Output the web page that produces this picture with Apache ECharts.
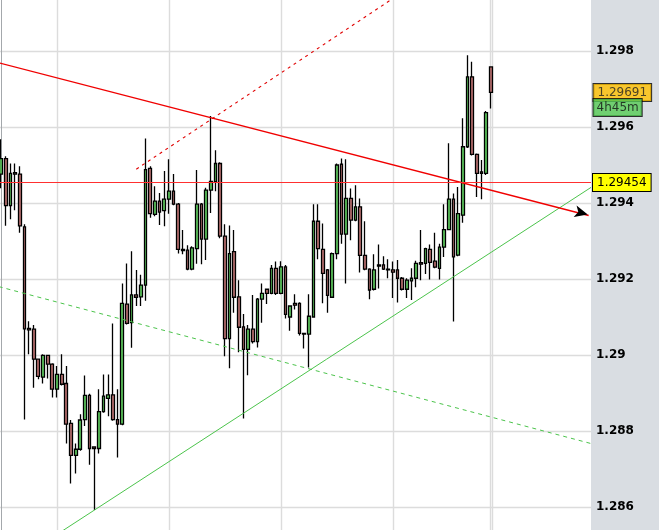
<!DOCTYPE html>
<html>
<head>
<meta charset="utf-8">
<script src="https://cdn.jsdelivr.net/npm/echarts@6/dist/echarts.min.js"></script>
<style>
html,body{margin:0;padding:0;background:#d9dde2;}
#chart{width:659px;height:530px;}
</style>
</head>
<body>
<div id="chart"></div>
<script>
// ---- data ----
const openPrices = [
1.29476,1.29517,1.29393,1.29480,1.29476,1.29337,1.29070,1.29068,1.28989,1.28942,
1.28999,1.28976,1.28910,1.28949,1.28925,1.28820,1.28736,1.28752,1.28830,1.28894,
1.28758,1.28754,1.28851,1.28886,1.28895,1.28830,1.28818,1.29134,1.29085,1.29158,
1.29153,1.29184,1.29491,1.29370,1.29405,1.29380,1.29410,1.29431,1.29397,1.29278,
1.29276,1.29226,1.29280,1.29397,1.29305,1.29434,1.29456,1.29504,1.29313,1.29043,
1.29272,1.29153,1.29074,1.29015,1.29068,1.29035,1.29147,1.29173,1.29162,1.29228,
1.29162,1.29232,1.29100,1.29136,1.29136,1.29057,1.29055,1.29100,1.29352,1.29278,
1.29224,1.29152,1.29267,1.29502,1.29318,1.29412,1.29355,1.29390,1.29262,1.29226,
1.29173,1.29237,1.29237,1.29226,1.29224,1.29224,1.29202,1.29173,1.29195,1.29202,
1.29243,1.29241,1.29278,1.29247,1.29228,1.29284,1.29330,1.29410,1.29263,1.29368,
1.29548,1.29732,1.29528,1.29482,1.29478,1.29758];
const closePrices = [
1.29517,1.29393,1.29478,1.29476,1.29340,1.29069,1.29066,1.28989,1.28944,1.28999,
1.28976,1.28910,1.28949,1.28923,1.28818,1.28736,1.28752,1.28829,1.28894,1.28754,
1.28754,1.28851,1.28892,1.28895,1.28830,1.28818,1.29136,1.29083,1.29158,1.29152,
1.29184,1.29488,1.29372,1.29405,1.29376,1.29410,1.29431,1.29397,1.29278,1.29275,
1.29226,1.29282,1.29397,1.29305,1.29434,1.29457,1.29504,1.29313,1.29043,1.29267,
1.29152,1.29073,1.29015,1.29068,1.29035,1.29147,1.29162,1.29162,1.29228,1.29162,
1.29232,1.29107,1.29129,1.29131,1.29057,1.29055,1.29102,1.29352,1.29280,1.29215,
1.29157,1.29267,1.29500,1.29318,1.29412,1.29355,1.29390,1.29262,1.29226,1.29171,
1.29224,1.29234,1.29226,1.29224,1.29218,1.29202,1.29173,1.29197,1.29202,1.29241,
1.29239,1.29280,1.29244,1.29231,1.29284,1.29330,1.29410,1.29258,1.29372,1.29548,
1.29732,1.29528,1.29478,1.29478,1.29638,1.29691];
const lowPrices = [
1.29439,1.29340,1.29357,1.29381,1.29322,1.28830,1.29002,1.28914,1.28936,1.28925,
1.28938,1.28888,1.28888,1.28920,1.28767,1.28662,1.28688,1.28748,1.28813,1.28711,
1.28592,1.28741,1.28848,1.28839,1.28827,1.28730,1.28815,1.29080,1.29019,1.29129,
1.29129,1.29143,1.29361,1.29365,1.29342,1.29339,1.29372,1.29394,1.29267,1.29265,
1.29223,1.29223,1.29240,1.29239,1.29250,1.29374,1.29431,1.29307,1.28997,1.28965,
1.29111,1.29007,1.28833,1.28947,1.29030,1.29020,1.29085,1.29134,1.29160,1.29158,
1.29160,1.29096,1.29064,1.29120,1.29051,1.29017,1.28967,1.29098,1.29252,1.29136,
1.29111,1.29150,1.29252,1.29293,1.29188,1.29302,1.29352,1.29217,1.29223,1.29147,
1.29170,1.29175,1.29224,1.29202,1.29150,1.29138,1.29170,1.29150,1.29145,1.29178,
1.29197,1.29213,1.29199,1.29228,1.29199,1.29258,1.29328,1.29088,1.29260,1.29348,
1.29545,1.29525,1.29416,1.29410,1.29474,1.29649];
const highPrices = [
1.29568,1.29523,1.29504,1.29504,1.29497,1.29344,1.29089,1.29079,1.28989,1.29002,
1.29000,1.28978,1.28971,1.29002,1.28971,1.28829,1.28767,1.28844,1.28946,1.28898,
1.28760,1.28910,1.28949,1.28949,1.29083,1.28910,1.29188,1.29241,1.29273,1.29224,
1.29211,1.29570,1.29497,1.29444,1.29426,1.29484,1.29515,1.29476,1.29400,1.29329,
1.29289,1.29286,1.29487,1.29400,1.29440,1.29629,1.29539,1.29507,1.29344,1.29341,
1.29329,1.29197,1.29108,1.29079,1.29158,1.29150,1.29188,1.29175,1.29237,1.29246,
1.29247,1.29237,1.29131,1.29160,1.29139,1.29058,1.29160,1.29397,1.29397,1.29346,
1.29226,1.29270,1.29504,1.29517,1.29515,1.29438,1.29447,1.29412,1.29352,1.29228,
1.29265,1.29291,1.29260,1.29252,1.29246,1.29250,1.29205,1.29202,1.29228,1.29248,
1.29329,1.29282,1.29291,1.29322,1.29293,1.29397,1.29557,1.29425,1.29442,1.29623,
1.29789,1.29772,1.29530,1.29513,1.29642,1.29760];

const slotCount = 127;                 // candle slots incl. empty room on the right
const categories = Array.from({length: slotCount}, (_, i) => 'H' + i);

// trend lines in data coordinates [slot index, price]
const resistanceLine = [[-0.5, 1.29769], [126, 1.29367]];
const fanLine        = [[29, 1.29489], [90, 1.29987]];
const supportLine    = [[10, 1.28512], [126.5, 1.29441]];
const channelLine    = [[-0.5, 1.29180], [126.5, 1.28767]];
const arrowTip       = [[125.8, 1.29370]];
const levelPrice = 1.29454;
const lastPrice  = 1.29691;
const timeLeft   = '4h45m';
const timeGrid   = [12, 36, 60, 84, 104.8, 105.4];
const yTicks = {min: 1.284, max: 1.300, step: 0.002};

// ---- chart ----
const candles = openPrices.map((o, i) => [o, closePrices[i], lowPrices[i], highPrices[i]]);
const FONT = 'DejaVu Sans';
const chart = echarts.init(document.getElementById('chart'), null, {renderer: 'canvas'});

chart.setOption({
  animation: false,
  backgroundColor: '#d9dde2',
  grid: {
    left: -1.3, right: 68, top: -25, bottom: -53,
    show: true, backgroundColor: '#ffffff', borderWidth: 0,
    containLabel: false, outerBoundsMode: 'none'
  },
  xAxis: [
    {type: 'category', data: categories, boundaryGap: true, show: false},
    {type: 'value', min: -0.5, max: slotCount - 0.5, show: false}
  ],
  yAxis: {
    type: 'value', position: 'right',
    min: yTicks.min, max: yTicks.max, interval: yTicks.step,
    axisLine: {show: true, lineStyle: {color: '#a4a8ac', width: 1}},
    axisTick: {show: false},
    axisLabel: {margin: 5, color: '#000', fontFamily: FONT, fontSize: 12, fontWeight: 'bold'},
    splitLine: {show: true, lineStyle: {color: '#dcdcdc', width: 1.3}}
  },
  series: [
    {
      type: 'candlestick', xAxisIndex: 0, yAxisIndex: 0,
      data: candles, barWidth: 3.2, silent: true,
      itemStyle: {
        color: '#5ec95e', color0: '#b97070',
        borderColor: '#000', borderColor0: '#000', borderWidth: 1.3
      }
    },
    {
      type: 'line', xAxisIndex: 1, data: channelLine, symbol: 'none', silent: true,
      lineStyle: {color: '#4cc44c', width: 1, type: [4, 4]},
      markLine: {
        silent: true, symbol: 'none', z: 1, animation: false, precision: 5,
        lineStyle: {color: '#dcdcdc', width: 1.4, type: 'solid'},
        label: {show: false},
        data: timeGrid.map(v => ({xAxis: v}))
      }
    },
    {
      type: 'line', xAxisIndex: 1, data: supportLine, symbol: 'none', silent: true,
      lineStyle: {color: '#4cc44c', width: 1, type: 'solid'}
    },
    {
      type: 'line', xAxisIndex: 1, data: resistanceLine, symbol: 'none', silent: true,
      lineStyle: {color: '#f00000', width: 1.4, type: 'solid'},
      markLine: {
        silent: true, symbol: 'none', animation: false, precision: 5,
        lineStyle: {color: '#ff3030', width: 1, type: 'solid', opacity: 1},
        label: {
          show: true, position: 'end', distance: 2,
          formatter: () => levelPrice.toFixed(5),
          fontFamily: FONT, fontSize: 12, color: '#000',
          backgroundColor: '#ffff00', borderColor: '#000', borderWidth: 1,
          padding: [3, 4, 2, 4]
        },
        data: [{yAxis: levelPrice}]
      }
    },
    {
      type: 'line', xAxisIndex: 1, data: fanLine, symbol: 'none', silent: true,
      lineStyle: {color: '#e00000', width: 1.1, type: [3, 4]}
    },
    {
      type: 'scatter', xAxisIndex: 1, data: arrowTip, clip: false, silent: true, z: 6,
      symbol: 'arrow', symbolSize: [9, 13], symbolRotate: -104,
      itemStyle: {color: '#000', opacity: 1}
    },
    {
      type: 'scatter', xAxisIndex: 1, clip: false, silent: true, z: 6,
      symbolSize: 1, itemStyle: {color: 'transparent'},
      data: [
        {value: [slotCount - 0.5, lastPrice],
         label: {show: true, position: 'right', distance: 2,
                 formatter: () => lastPrice.toFixed(5),
                 fontFamily: FONT, fontSize: 12, color: '#222',
                 backgroundColor: '#ffc000', borderColor: '#000', borderWidth: 1,
                 padding: [3, 4, 2, 4]}},
        {value: [slotCount - 0.5, lastPrice],
         label: {show: true, position: 'right', distance: 2, offset: [0, 15],
                 formatter: () => timeLeft,
                 fontFamily: FONT, fontSize: 12, color: '#111',
                 backgroundColor: '#55cc55', borderColor: '#000', borderWidth: 1,
                 padding: [3, 3, 2, 3]}}
      ]
    }
  ]
});
</script>
</body>
</html>
